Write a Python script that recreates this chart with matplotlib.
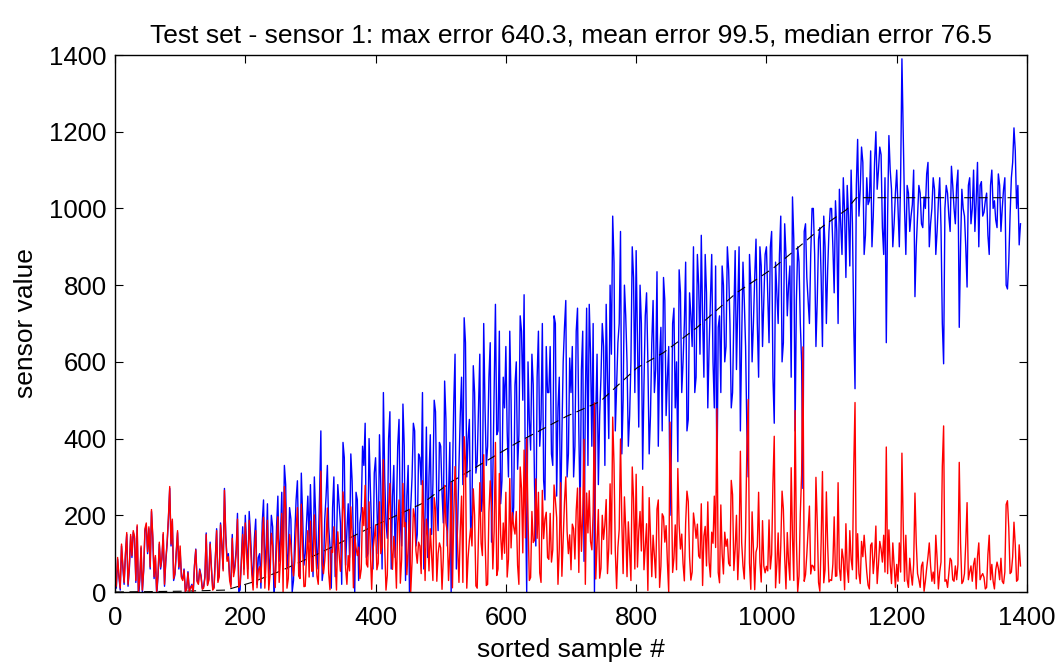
import matplotlib
matplotlib.use("Agg")
import matplotlib.pyplot as plt
import numpy as np

# values read off the picture on two interleaved grids:
# *_a at samples 0, 4, 8, ...   and   *_b at samples 2, 6, 10, ...

# predicted sensor value (blue)
pred_a = [
	35, 85, 5, 65, 95, 15, 145, 155, 25, -20, 115, 55, 175, 165, 210, 35, -10, 125, 85, 15, 125, 270, 185, 45, 155,
	105, 35, 0, 53, 12, -5, 112, 24, 44, 14, 154, 34, 64, 12, 165, 44, 125, 270, 86, 38, 150, 70, 205, 5, 170,
	200, 60, 150, 30, 190, 90, 10, 240, 120, 40, 200, -10, 170, 80, 260, 330, 60, 220, 0, 150, 290, 40, 200, 100, 250,
	280, 40, 200, 120, 420, 60, 250, 170, 10, 300, 130, 230, 20, 350, 160, 90, 290, 0, 240, 180, 380, 440, 100, 270, 60,
	350, 100, 280, 520, 180, 400, 60, 330, 210, 450, 120, 380, 250, 0, 300, 420, 150, 350, 520, 200, 90, 410, 280, 470, 160,
	380, 180, 450, 250, 0, 490, 60, 330, 560, 715, 300, 450, 200, 520, 340, 620, 240, 480, 380, 650, 300, 750, 420, 230, 560,
	640, 300, 500, 220, 600, 410, 680, 775, 0, 450, 620, 280, 560, 380, 700, 240, 520, 640, 330, 700, 480, 180, 600, 760, 360,
	520, 300, 680, 420, 580, 80, 740, 750, 380, 0, 620, 460, 700, 330, 560, 800, 980, 420, 650, 940, 500, 720, 380, 600, 820,
	890, 430, 700, 540, 780, 360, 650, 520, 835, 610, 420, 760, 560, 200, 700, 480, 340, 780, 600, 860, 450, 720, 900, 560, 800,
	930, 560, 780, 640, 880, 480, 260, 720, 850, 600, 900, 700, 520, 890, 750, 420, 860, 640, 300, 800, 700, 920, 560, 850, 760,
	900, 650, 940, 440, 780, 880, 600, 960, 720, 850, 1030, 420, 900, 700, 270, 960, 760, 880, 1000, 640, 920, 820, 980, 700, 940,
	1000, 780, 940, 1050, 880, 990, 1060, 850, 960, 530, 1180, 1050, 1120, 930, 1010, 1150, 980, 1200, 1100, 1140, 880, 650, 1190, 1050, 960,
	1100, 900, 1390, 1000, 1060, 940, 1010, 770, 980, 1040, 950, 1000, 1120, 960, 1080, 880, 1020, 950, 595, 1060, 980, 1110, 1000, 1060, 690,
	1050, 980, 795, 1080, 1000, 940, 1120, 1060, 980, 1020, 930, 1060, 1000, 970, 1090, 940, 1050, 800, 860, 1080, 1210, 1000, 905,
]
pred_b = [
	10, 40, 120, 20, 150, 60, 90, 140, 170, 30, 0, 160, 100, 60, 140, 90, 40, 60, 150, 80, 190, 120, 30, 100, 60,
	40, 60, 10, 5, 20, 70, 30, 60, 10, 40, 20, 130, 10, 90, 30, 180, 60, 150, 100, 20, 50, 110, 0, 90, 60,
	120, 210, 70, 140, 20, 100, 180, 50, 230, 90, 170, 40, 250, 140, 60, 280, 100, 190, 30, 240, 120, 310, 70, 180, 130,
	150, 300, 60, 250, 30, 190, 330, 120, 220, 40, 280, 180, 390, 70, 230, 360, 130, 260, 30, 210, 330, 90, 400, 160, 310,
	230, 410, 60, 300, 140, 470, 250, 90, 380, 180, 490, 30, 330, 220, 440, 120, 360, 280, 60, 430, 300, 150, 500, 230, 390,
	260, 550, 120, 390, 300, 620, 180, 460, 280, 650, 400, 150, 590, 310, 480, 210, 700, 330, 560, 130, 520, 410, 680, 290, 480,
	420, 680, 180, 540, 320, 720, 500, 260, 600, 370, 540, 120, 680, 450, 290, 640, 520, 360, 720, 250, 560, 410, 690, 300, 610,
	640, 380, 740, 200, 680, 500, 330, 620, 700, 460, 280, 560, 640, 750, 400, 620, 860, 540, 700, 360, 800, 600, 460, 900, 520,
	650, 800, 320, 720, 600, 460, 760, 580, 380, 690, 820, 460, 640, 360, 740, 600, 840, 520, 700, 420, 780, 640, 520, 880, 620,
	720, 880, 480, 760, 600, 850, 690, 520, 800, 640, 840, 480, 720, 580, 900, 660, 760, 420, 880, 600, 820, 700, 900, 640, 880,
	780, 900, 560, 860, 700, 980, 650, 880, 800, 560, 920, 760, 860, 600, 940, 820, 700, 1000, 880, 760, 950, 640, 900, 840, 1000,
	900, 1020, 700, 960, 1080, 820, 980, 1100, 700, 1060, 980, 1160, 880, 1080, 1020, 900, 1120, 1050, 1160, 950, 1080, 980, 1100, 900, 1040,
	1000, 1080, 1200, 880, 1040, 980, 1100, 900, 1060, 960, 1030, 1090, 900, 1000, 1050, 940, 1080, 700, 1000, 1040, 940, 1060, 960, 1100, 900,
	1000, 900, 1060, 960, 1100, 1020, 900, 1070, 990, 1040, 880, 1100, 1020, 950, 1060, 1000, 1080, 790, 980, 1120, 1150, 1060, 960,
]

# absolute error (red)
err_a = [
	40, 90, 10, 70, 100, 20, 150, 160, 30, 0, 120, 60, 180, 170, 215, 40, 0, 130, 90, 20, 130, 275, 190, 50, 160,
	120, 30, 0, 50, 10, 0, 110, 20, 40, 10, 150, 30, 60, 10, 160, 40, 120, 265, 80, 30, 140, 60, 190, 20, 150,
	180, 35, 125, 5, 160, 57, 25, 195, 80, 5, 153, 55, 120, 25, 205, 275, 10, 150, 70, 80, 220, 35, 115, 15, 160,
	185, 55, 105, 20, 315, 48, 135, 50, 110, 170, 5, 100, 110, 210, 20, 55, 150, 145, 95, 35, 220, 278, 65, 105, 108,
	175, 75, 100, 345, 5, 220, 120, 145, 10, 240, 85, 170, 45, 215, 80, 195, 75, 120, 290, 30, 145, 165, 30, 215, 100,
	115, 90, 180, 30, 285, 200, 230, 25, 250, 405, 10, 135, 120, 200, 10, 285, 95, 145, 20, 290, 60, 390, 60, 150, 180,
	260, 85, 115, 170, 210, 20, 270, 370, 400, 30, 210, 135, 140, 50, 265, 190, 90, 205, 110, 240, 20, 285, 140, 300, 100,
	58, 165, 212, 51, 106, 398, 258, 264, 110, 493, 126, 36, 200, 176, 48, 282, 456, 108, 116, 399, 48, 164, 183, 30, 243,
	307, 158, 107, 58, 178, 246, 40, 95, 216, 12, 204, 130, 76, 443, 51, 175, 322, 112, 74, 180, 236, 31, 206, 140, 94,
	230, 146, 68, 78, 156, 250, 478, 24, 100, 156, 138, 68, 254, 112, 32, 367, 68, 157, 502, 7, 112, 104, 260, 26, 68,
	67, 188, 98, 406, 72, 23, 263, 91, 155, 31, 143, 473, 1, 204, 639, 45, 161, 47, 67, 299, 25, 131, 24, 261, 26,
	30, 196, 42, 62, 112, 6, 60, 160, 58, 494, 152, 22, 92, 98, 18, 122, 48, 172, 72, 112, 148, 378, 162, 22, 68,
	72, 128, 362, 28, 32, 88, 18, 258, 48, 12, 78, 28, 92, 68, 52, 148, 8, 78, 433, 32, 48, 82, 28, 32, 338,
	22, 48, 233, 52, 28, 88, 92, 32, 48, 8, 98, 32, 28, 58, 62, 88, 22, 228, 168, 52, 182, 28, 123,
]
err_b = [
	15, 45, 125, 25, 155, 65, 95, 145, 175, 35, 5, 165, 105, 65, 145, 95, 45, 65, 155, 85, 195, 125, 35, 105, 65,
	37, 57, 7, 2, 17, 67, 27, 57, 7, 37, 17, 125, 5, 85, 25, 175, 55, 143, 92, 12, 40, 100, 12, 75, 45,
	99, 187, 45, 112, 11, 66, 143, 10, 187, 44, 121, 12, 196, 84, 1, 218, 35, 122, 42, 165, 42, 229, 14, 93, 39,
	54, 201, 42, 148, 75, 82, 219, 6, 103, 80, 157, 54, 261, 62, 95, 222, 11, 116, 117, 60, 173, 73, 235, 7, 141,
	58, 235, 118, 119, 44, 283, 59, 105, 181, 23, 283, 181, 115, 1, 217, 107, 130, 48, 175, 190, 55, 100, 246, 28, 128,
	7, 278, 158, 105, 11, 327, 117, 159, 25, 342, 89, 166, 269, 16, 149, 127, 358, 17, 208, 227, 158, 43, 309, 85, 101,
	39, 296, 207, 151, 70, 326, 102, 141, 195, 38, 129, 295, 260, 25, 139, 208, 85, 78, 279, 194, 113, 41, 235, 158, 149,
	177, 86, 271, 272, 204, 20, 154, 132, 208, 34, 215, 62, 137, 241, 115, 99, 334, 9, 163, 185, 248, 40, 107, 326, 60,
	65, 210, 275, 120, 4, 148, 148, 37, 240, 67, 196, 173, 0, 286, 88, 58, 175, 151, 29, 263, 92, 52, 177, 177, 88,
	17, 171, 235, 39, 127, 116, 51, 227, 47, 119, 75, 291, 56, 200, 116, 129, 34, 379, 76, 209, 6, 118, 78, 186, 50,
	55, 60, 284, 11, 154, 120, 216, 8, 78, 324, 30, 136, 42, 306, 28, 98, 224, 70, 56, 182, 2, 314, 58, 123, 32,
	73, 41, 285, 30, 86, 178, 25, 86, 321, 34, 48, 132, 148, 52, 8, 128, 92, 22, 132, 78, 52, 48, 72, 128, 12,
	28, 52, 172, 148, 12, 48, 72, 128, 32, 68, 2, 62, 128, 28, 22, 88, 52, 328, 28, 12, 88, 32, 68, 72, 128,
	28, 128, 32, 68, 72, 8, 128, 42, 38, 12, 148, 72, 8, 78, 32, 28, 52, 238, 48, 92, 122, 32, 68,
]

# true (sorted) sensor value, black dashed
true_x = [0, 100, 170, 210, 253, 315, 386, 473, 514, 617, 693, 745, 801, 842, 893, 954, 1011, 1057, 1087, 1123, 1138, 1390]
true_y = [0, 2, 5, 25, 54, 102, 163, 232, 285, 389, 458, 497, 584, 624, 689, 780, 845, 910, 954, 997, 1028, 1028]


def merge(a, b):
	xs = np.concatenate([np.arange(len(a)) * 4, 2 + np.arange(len(b)) * 4])
	ys = np.concatenate([a, b])
	order = np.argsort(xs, kind="stable")
	return xs[order], ys[order]


px, py = merge(pred_a, pred_b)
ex, ey = merge(err_a, err_b)

plt.rcParams['font.family'] = ['Liberation Sans', 'DejaVu Sans']

fig = plt.figure(figsize=(10.58, 6.66), dpi=100)
ax = fig.add_axes([0.1087, 0.1111, 0.8620, 0.8063])

ax.plot(px, py, color='#0000ff', lw=1.0)
ax.plot(true_x, true_y, color='k', ls='--', dashes=(8, 5), lw=0.8)
ax.plot(ex, ey, color='#ff0000', lw=1.0)

ax.set_xlim(0, 1400)
ax.set_ylim(0, 1400)
ax.set_xticks(range(0, 1401, 200))
ax.set_yticks(range(0, 1401, 200))
ax.tick_params(direction='in', top=True, right=True, length=6, labelsize=18.5, pad=6)
ax.tick_params(axis='x', pad=10)
for s in ax.spines.values():
	s.set_linewidth(1.0)

ax.set_title("Test set - sensor 1: max error 640.3, mean error 99.5, median error 76.5", fontsize=19, pad=9)
ax.set_xlabel("sorted sample #", fontsize=19, labelpad=6)
ax.set_ylabel("sensor value", fontsize=19, labelpad=8)

fig.savefig("out.png", dpi=100)
